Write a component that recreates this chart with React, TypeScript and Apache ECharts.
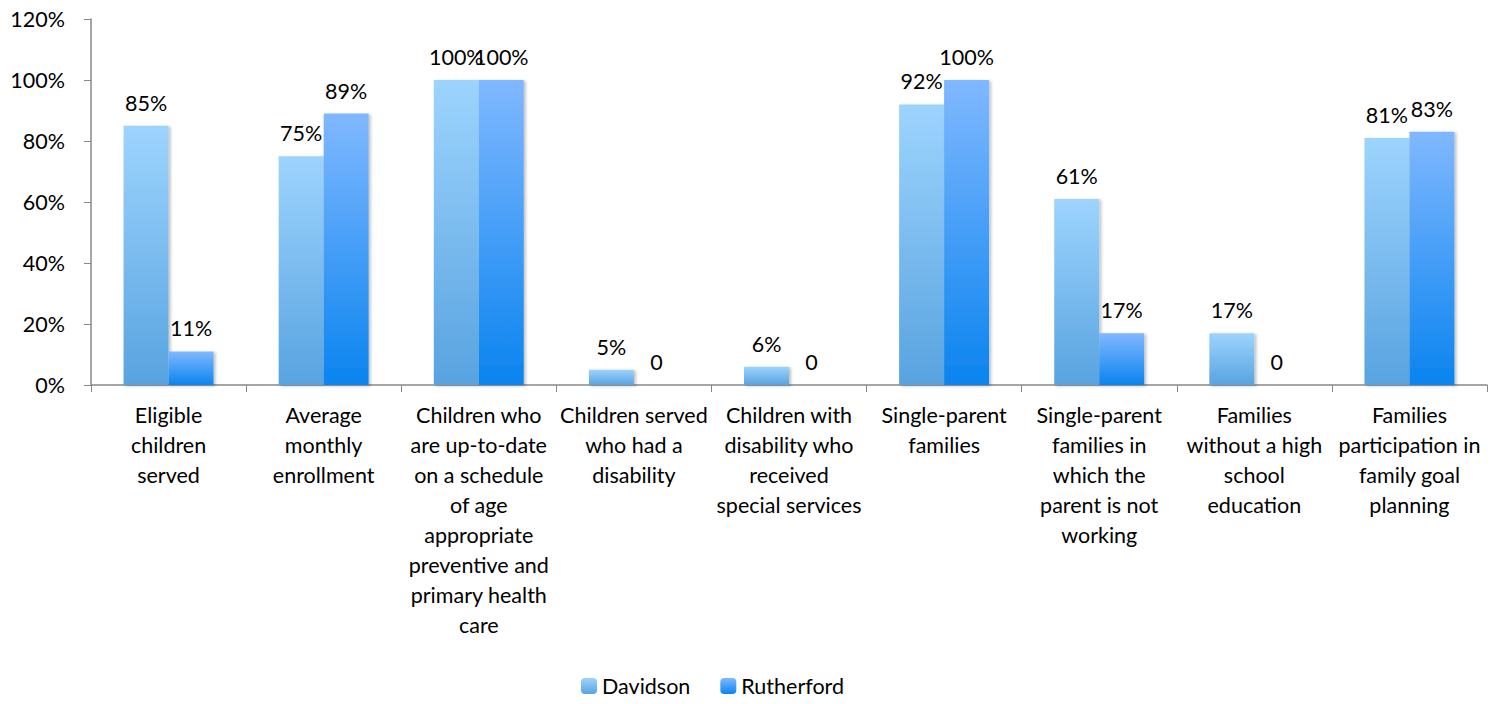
import React, { useEffect, useRef } from "react";
import * as echarts from "echarts";

const categories = [
  "Eligible\nchildren\nserved",
  "Average\nmonthly\nenrollment",
  "Children who\nare up-to-date\non a schedule\nof age\nappropriate\npreventive and\nprimary health\ncare",
  "Children served\nwho had a\ndisability",
  "Children with\ndisability who\nreceived\nspecial services",
  "Single-parent\nfamilies",
  "Single-parent\nfamilies in\nwhich the\nparent is not\nworking",
  "Families\nwithout a high\nschool\neducation",
  "Families\nparticipation in\nfamily goal\nplanning",
];
const davidson = [85, 75, 100, 5, 6, 92, 61, 17, 81];
const rutherford = [11, 89, 100, 0, 0, 100, 17, 0, 83];
const yTicks = [0, 20, 40, 60, 80, 100, 120];

const FONT = "Lato, 'Open Sans', sans-serif";
const FS = 21.5;

const grad = (top: string, bottom: string) =>
  new echarts.graphic.LinearGradient(0, 0, 0, 1, [
    { offset: 0, color: top },
    { offset: 1, color: bottom },
  ]);

export default function App() {
  const ref = useRef<HTMLDivElement>(null);
  useEffect(() => {
    document.body.style.margin = "0";
    if (!ref.current) return;
    const chart = echarts.init(ref.current, undefined, { renderer: "svg" });
    const labelCfg = {
      show: true,
      position: "top" as const,
      distance: 12,
      color: "#000",
      fontSize: FS,
      fontFamily: FONT,
      formatter: (p: any) => (p.value === 0 ? "0" : p.value + "%"),
    };
    const shadow = {
      shadowColor: "rgba(0,0,0,0.25)",
      shadowBlur: 3,
      shadowOffsetX: 2,
      shadowOffsetY: 1,
    };
    chart.setOption({
      animation: false,
      grid: { left: 91, right: 15, top: 19, bottom: 319, containLabel: false },
      legend: {
        bottom: 2,
        left: 576,
        itemWidth: 16,
        itemHeight: 16,
        itemGap: 30,
        textStyle: { fontSize: FS, fontFamily: FONT, color: "#000" },
        data: ["Davidson", "Rutherford"],
      },
      xAxis: {
        type: "category",
        data: categories,
        axisLine: { lineStyle: { color: "#888", width: 1.5 } },
        axisTick: { show: true, length: 7, lineStyle: { color: "#888" } },
        axisLabel: {
          interval: 0,
          color: "#000",
          fontSize: FS,
          fontFamily: FONT,
          lineHeight: 30,
          margin: 15,
        },
      },
      yAxis: {
        type: "value",
        min: 0,
        max: 120,
        interval: 20,
        splitLine: { show: false },
        axisLine: { show: true, lineStyle: { color: "#888", width: 1.5 } },
        axisTick: { show: true, length: 7, lineStyle: { color: "#888" } },
        axisLabel: {
          color: "#000",
          fontSize: FS,
          fontFamily: FONT,
          margin: 26,
          formatter: (v: number) => (yTicks.includes(v) ? v + "%" : ""),
        },
      },
      series: [
        {
          name: "Davidson",
          type: "bar",
          data: davidson,
          barGap: "0%",
          barCategoryGap: "42%",
          itemStyle: { color: grad("#9DD4FE", "#58A3E0"), ...shadow },
          label: labelCfg,
        },
        {
          name: "Rutherford",
          type: "bar",
          data: rutherford,
          itemStyle: { color: grad("#80B8FF", "#0A84EF"), ...shadow },
          label: labelCfg,
        },
      ],
    });
    return () => chart.dispose();
  }, []);
  return <div ref={ref} style={{ width: 1502, height: 704 }} />;
}
